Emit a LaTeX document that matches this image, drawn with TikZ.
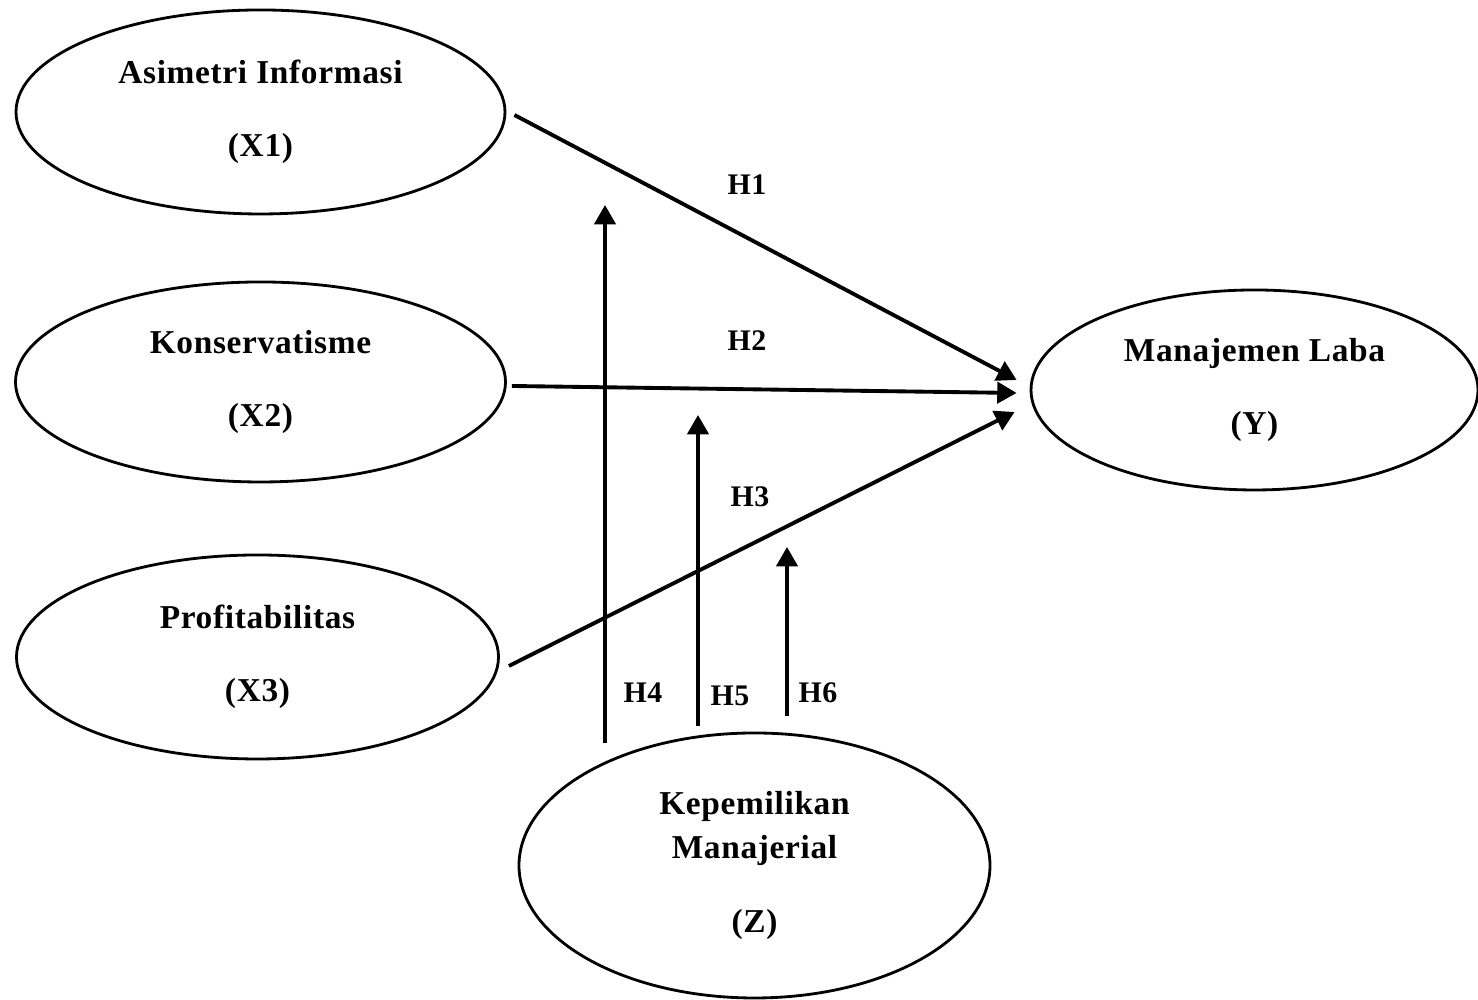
\documentclass[tikz,border=0pt]{standalone}
\usepackage{fontspec}
\newfontfamily\diagfont{Liberation Serif}[LetterSpace=2]
\usetikzlibrary{arrows.meta,shapes.geometric}

\begin{document}
\begin{tikzpicture}[auto, node distance=2.7cm, >={Triangle[length=5.5pt,width=6pt]},
  var/.style={ellipse,draw,line width=0.8pt,inner sep=0pt,align=center,
    font=\diagfont\bfseries\fontsize{9.5}{11.4}\selectfont},
  hyp/.style={inner sep=1pt,font=\diagfont\bfseries\fontsize{8.5}{10.2}\selectfont},
  path/.style={->,line width=1.1pt}]
\useasboundingbox (0,0) rectangle (14.78,10);

\node[var,minimum width=4.89cm,minimum height=2.04cm] (x1) at (2.605,8.88) {Asimetri Informasi\\[9.4pt](X1)};
\node[var,minimum width=4.9cm,minimum height=2cm,below of = x1] (x2) {Konservatisme\\[9.4pt](X2)};
\node[var,minimum width=4.82cm,minimum height=2.04cm,below of = x2,xshift=-0.03cm,yshift=-0.05cm] (x3) {Profitabilitas\\[9.4pt](X3)};
\node[var,minimum width=4.47cm,minimum height=2cm] (y) at (12.545,6.10) {Manajemen Laba\\[9.4pt](Y)};
\node[var,minimum width=4.71cm,minimum height=2.65cm] (z) at (7.545,1.345) {Kepemilikan\\[1.1pt]Manajerial\\[9.4pt](Z)};

% moderating arrows
\coordinate (h4a) at (6.05,2.57);
\coordinate (h4b) at (6.05,7.95);
\coordinate (h5a) at (6.98,2.74);
\coordinate (h5b) at (6.98,5.85);
\coordinate (h6a) at (7.87,2.84);
\coordinate (h6b) at (7.87,4.53);

\draw[path] ([shift={(0.08,-0.03)}]x1.east) -- ([shift={(-0.13,0.10)}]y.west);
\draw[path] ([shift={(0.05,-0.04)}]x2.east) -- ([shift={(-0.13,-0.03)}]y.west);
\draw[path] ([shift={(0.09,-0.09)}]x3.east) -- ([shift={(-0.15,-0.22)}]y.west);

\draw[path] (h4a) -- (h4b);
\draw[path] (h5a) -- (h5b);
\draw[path] (h6a) -- (h6b);

\node[hyp] (h1) at (7.47,8.15) {H1};
\node[hyp] (h2) at (7.47,6.59) {H2};
\node[hyp] (h3) at (7.50,5.03) {H3};
\node[hyp] (h4) at (6.43,3.07) {H4};
\node[hyp] (h5) at (7.30,3.04) {H5};
\node[hyp] (h6) at (8.18,3.07) {H6};

\end{tikzpicture}
\end{document}
